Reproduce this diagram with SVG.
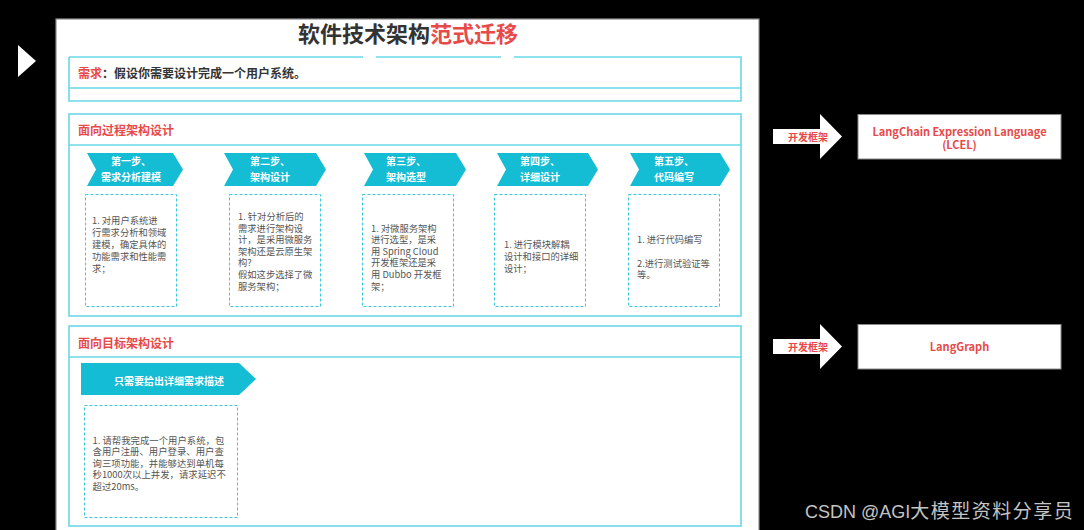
<svg xmlns="http://www.w3.org/2000/svg" width="1084" height="530" viewBox="0 0 1084 530">
<defs>
<style>
.sec{fill:none;stroke:#6ad7e8;stroke-width:1.6}
.dash{fill:#fff;stroke:#3cc6dc;stroke-width:1;stroke-dasharray:3 2}
.chev{fill:#14bcd4}
.cn{font-family:"Noto Sans CJK SC","Noto Sans",sans-serif}
.body{font-size:9.3px;fill:#555}
.body2{font-size:9.4px;fill:#555}
.stept{font-size:10px;font-weight:700;fill:#fff;text-anchor:middle}
.hdr{font-size:12px;font-weight:700;fill:#e84a4a}
.red{fill:#e84a4a}
.rt{font-size:11px;font-weight:700;fill:#e84a4a;text-anchor:middle}
.rbox{fill:#fff;stroke:#8a8a8a;stroke-width:1}
.warr{fill:#fff}
</style>
</defs>
<rect x="0" y="0" width="1084" height="530" fill="#000"/>
<polygon points="18,45 36,61 18,77" fill="#fff"/>
<rect id="panel" x="56" y="19" width="703" height="520" fill="#fff" stroke="#8c8c8c" stroke-width="1.2"/>

<g id="title">
<text class="cn" x="408" y="42" font-size="22" font-weight="700" fill="#333" text-anchor="middle">软件技术架构<tspan class="red">范式迁移</tspan></text>
</g>

<g id="requirement">
<path class="sec" d="M69,57 H363 M376,57 H501 M514,57 H741 V101 H69 V57 M69,88 H741"/>
<text class="cn" x="78" y="77.5" font-size="12" font-weight="700" fill="#333"><tspan class="red">需求</tspan>：假设你需要设计完成一个用户系统。</text>
</g>

<g id="process-section">
<rect class="sec" x="69" y="114" width="672" height="202"/>
<line class="sec" x1="69" y1="145" x2="741" y2="145"/>
<text class="cn hdr" x="78" y="134.5">面向过程架构设计</text>
</g>

<g id="step1">
<path class="chev" d="M87,153 H173 L183,169.5 L173,186 H87 L96,169.5 Z"/>
<text class="cn stept" x="131" y="165">第一步、</text>
<text class="cn stept" x="131" y="180.5">需求分析建模</text>
<rect class="dash" x="85.5" y="194.5" width="91" height="112"/>
<text class="cn body"><tspan x="92" y="224.3">1. 对用户系统进</tspan><tspan x="92" y="236.1">行需求分析和领域</tspan><tspan x="92" y="247.9">建模，确定具体的</tspan><tspan x="92" y="259.7">功能需求和性能需</tspan><tspan x="92" y="271.5">求；</tspan></text>
</g>

<g id="step2">
<path class="chev" d="M224,153 H316 L326,169.5 L316,186 H224 L233,169.5 Z"/>
<text class="cn stept" x="270" y="165">第二步、</text>
<text class="cn stept" x="270" y="180.5">架构设计</text>
<rect class="dash" x="229.5" y="194.5" width="91" height="112"/>
<text class="cn body"><tspan x="238" y="220">1. 针对分析后的</tspan><tspan x="238" y="231.6">需求进行架构设</tspan><tspan x="238" y="243.2">计，是采用微服务</tspan><tspan x="238" y="254.8">架构还是云原生架</tspan><tspan x="238" y="266.4">构?</tspan><tspan x="238" y="278">假如这步选择了微</tspan><tspan x="238" y="289.6">服务架构；</tspan></text>
</g>

<g id="step3">
<path class="chev" d="M364,153 H456 L466,169.5 L456,186 H364 L373,169.5 Z"/>
<text class="cn stept" x="406" y="165">第三步、</text>
<text class="cn stept" x="406" y="180.5">架构选型</text>
<rect class="dash" x="362.5" y="194.5" width="91" height="112"/>
<text class="cn body"><tspan x="371" y="231.6">1. 对微服务架构</tspan><tspan x="371" y="243.2">进行选型，是采</tspan><tspan x="371" y="254.8">用 Spring Cloud</tspan><tspan x="371" y="266.4">开发框架还是采</tspan><tspan x="371" y="278">用 Dubbo 开发框</tspan><tspan x="371" y="289.6">架；</tspan></text>
</g>

<g id="step4">
<path class="chev" d="M497,153 H588 L598,169.5 L588,186 H497 L506,169.5 Z"/>
<text class="cn stept" x="540" y="165">第四步、</text>
<text class="cn stept" x="540" y="180.5">详细设计</text>
<rect class="dash" x="494.5" y="194.5" width="91" height="112"/>
<text class="cn body"><tspan x="504" y="248.3">1. 进行模块解耦</tspan><tspan x="504" y="259.9">设计和接口的详细</tspan><tspan x="504" y="271.5">设计；</tspan></text>
</g>

<g id="step5">
<path class="chev" d="M630,153 H720 L730,169.5 L720,186 H630 L639,169.5 Z"/>
<text class="cn stept" x="674" y="165">第五步、</text>
<text class="cn stept" x="674" y="180.5">代码编写</text>
<rect class="dash" x="628.5" y="194.5" width="91" height="112"/>
<text class="cn body"><tspan x="637" y="243.3">1. 进行代码编写</tspan><tspan x="637" y="266.5">2.进行测试验证等</tspan><tspan x="637" y="278.1">等。</tspan></text>
</g>

<g id="goal-section">
<rect class="sec" x="69" y="326" width="672" height="200"/>
<line class="sec" x1="69" y1="357" x2="741" y2="357"/>
<text class="cn hdr" x="78" y="347.5">面向目标架构设计</text>
</g>

<g id="goal-step">
<path class="chev" d="M81,363 H239 L256,379 L239,395 H81 Z"/>
<text class="cn stept" x="169" y="384.5">只需要给出详细需求描述</text>
<rect class="dash" x="84.5" y="405.5" width="153" height="112"/>
<text class="cn body2"><tspan x="92.5" y="443.5">1. 请帮我完成一个用户系统，包</tspan><tspan x="92.5" y="455">含用户注册、用户登录、用户查</tspan><tspan x="92.5" y="466.5">询三项功能，并能够达到单机每</tspan><tspan x="92.5" y="478">秒1000次以上并发，请求延迟不</tspan><tspan x="92.5" y="489.5">超过20ms。</tspan></text>
</g>

<g id="lcel">
<rect class="rbox" x="858" y="114.5" width="203" height="44.5"/>
<text class="cn rt" x="959.5" y="135.5">LangChain Expression Language</text>
<text class="cn rt" x="959.5" y="148.5">(LCEL)</text>
</g>

<g id="langgraph">
<rect class="rbox" x="858" y="324.5" width="203" height="44.5"/>
<text class="cn rt" x="959.5" y="351">LangGraph</text>
</g>

<g id="connectors">
<path class="warr" d="M773,129 H820 V114 L842,136.5 L820,159 V144 H773 Z"/>
<text class="cn" x="808" y="140.5" font-size="10" font-weight="700" fill="#e84a4a" text-anchor="middle">开发框架</text>
<path class="warr" d="M773,339 H820 V324 L842,346.5 L820,369 V354 H773 Z"/>
<text class="cn" x="808" y="350.5" font-size="10" font-weight="700" fill="#e84a4a" text-anchor="middle">开发框架</text>
</g>

<text x="805" y="518" font-family="'Liberation Sans','Noto Sans CJK SC',sans-serif" font-size="18" fill="#c4c4c4">CSDN @AGI<tspan font-family="'Noto Sans CJK SC',sans-serif" font-size="19" letter-spacing="1.5">大模型资料分享员</tspan></text>
</svg>
